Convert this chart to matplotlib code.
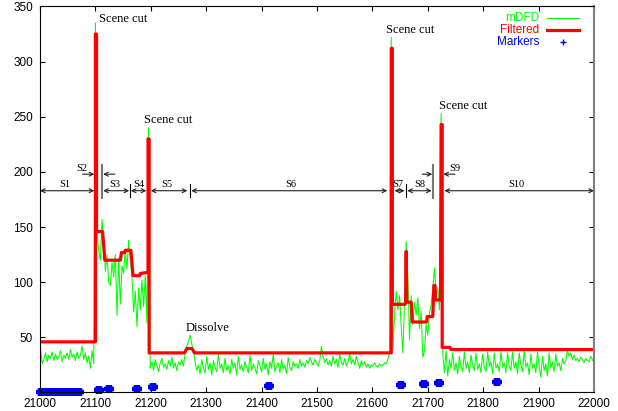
import numpy as np
import matplotlib.pyplot as plt

plt.rcParams['font.family'] = ['Liberation Sans', 'DejaVu Sans']

# mDFD, sampled every 3rd frame starting at frame 21001
mdfd_s1 = [40, 26, 30, 36, 28, 34, 31, 37, 29, 35, 30, 33, 38, 28, 34, 31, 36,
           30, 39, 32, 35, 29, 37, 31, 34, 42, 30, 36, 27, 33, 22, 38, 26, 335]
mdfd_s2 = [145, 128, 120, 157, 138, 110, 125, 100, 97, 118, 105, 125, 70, 122,
           80, 115, 108, 130, 112, 138, 120, 105, 73, 92, 60, 95, 75, 102, 78,
           106, 63, 240]
mdfd_s3 = [22, 28, 20, 30, 25, 19, 27, 31, 23, 26, 21, 29, 24, 32, 22, 27, 20,
           28, 25, 30, 24]
mdfd_dissolve = [36, 42, 46, 52, 44, 38, 28]
mdfd_s6 = [20, 25, 17, 30, 22, 18, 33, 21, 27, 16, 29, 23, 19, 35, 22, 26, 18, 31, 20, 24,
           17, 30, 22, 27, 16, 33, 21, 25, 19, 28, 23, 18, 34, 20, 26, 22, 17, 29, 24, 19,
           31, 21, 26, 16, 28, 22, 35, 19, 24, 27, 18, 30, 21, 25, 17, 32, 23, 20, 28, 24,
           26, 22, 30, 24, 27, 23, 29, 26, 32, 28, 25, 30, 27, 24, 29, 42, 33, 27, 31, 25,
           29, 24, 33, 26, 30, 23, 35, 27, 25, 31, 24, 28, 36, 26, 30, 25, 33, 27, 22, 29,
           25, 28, 23, 26, 22, 25, 24, 27,
           24, 23, 26, 24, 25, 27, 26, 30, 36, 322]
mdfd_s7_9 = [40, 70, 92, 75, 88, 60, 36, 82, 137, 105, 48, 88, 62, 82, 70, 86,
             58, 74, 32, 38, 62, 52, 72, 80, 94, 113, 88, 95, 75, 253]
mdfd_s10 = [35, 18, 38, 15, 30, 22, 36, 20, 27, 17, 33, 24, 19, 37, 22, 28, 18, 34, 25, 20,
            36, 21, 26, 18, 35, 23, 19, 37, 24, 28, 17, 36, 22, 26, 19, 37, 23, 27, 18, 36,
            24, 20, 37, 22, 28, 17, 36, 25, 19, 38, 23, 27, 16, 35, 22, 26, 18, 37, 24, 14,
            33, 20, 26, 15, 36, 22, 28, 19, 35, 24, 27, 20, 31, 26, 29, 38, 33, 36, 30, 34,
            29, 31, 28, 32, 30, 27, 31, 29, 28, 33, 30, 27]
mdfd = mdfd_s1 + mdfd_s2 + mdfd_s3 + mdfd_dissolve + mdfd_s6 + mdfd_s7_9 + mdfd_s10
frames = 21001 + 3 * np.arange(len(mdfd))

# filtered curve
filt_frames = [21000, 21100, 21100, 21102, 21102, 21113, 21117, 21145, 21147, 21153,
               21154, 21164, 21168, 21180, 21181, 21195, 21195, 21197, 21197, 21261,
               21265, 21274, 21279, 21634, 21634, 21636, 21636, 21659, 21660, 21661,
               21662, 21670, 21672, 21698, 21699, 21709, 21711, 21713, 21714, 21723,
               21724, 21726, 21726, 21740, 21742, 22000]
filt_values = [46, 46, 325, 325, 146, 146, 120, 120, 127, 127,
               129, 129, 106, 106, 108, 109, 230, 230, 36, 36,
               40, 40, 36, 36, 312, 312, 80, 80, 82, 128,
               82, 82, 64, 64, 69, 69, 97, 97, 84, 84,
               243, 243, 41, 41, 39, 39]

# detected markers
marker_frames = [21000, 21003, 21006, 21009, 21012, 21015, 21018, 21021, 21024, 21027,
                 21030, 21033, 21036, 21039, 21042, 21045, 21048, 21051, 21054, 21057,
                 21060, 21063, 21066, 21069, 21072,
                 21104, 21106, 21108, 21122, 21124, 21126, 21173, 21175, 21177,
                 21202, 21204, 21206, 21411, 21413, 21415, 21650, 21652, 21654,
                 21691, 21693, 21695, 21718, 21720, 21722, 21823, 21825, 21827]
marker_values = [1] * 25 + [2, 2, 2, 3, 3, 3, 3.6, 3.6, 3.6, 5, 5, 5, 5.7, 5.7, 5.7,
                            6.6, 6.6, 6.6, 7.8, 7.8, 7.8, 9, 9, 9, 9.6, 9.6, 9.6]

# shot segments
seg_names = ['S1', 'S3', 'S4', 'S5', 'S6', 'S7', 'S8', 'S10']
seg_start = [21000, 21114, 21164, 21200, 21273, 21640, 21663, 21730]
seg_end = [21098, 21161, 21192, 21266, 21627, 21658, 21707, 22000]
seg_label_x = [21045, 21135, 21178, 21229, 21453, 21645, 21685, 21860]
seg_y = 183
short_ticks = [21162, 21270, 21660]
short_names = ['S2', 'S9']
short_label_x = [21075, 21749]
short_bar = [21112, 21710]
short_left = [(21077, 21098), (21690, 21708)]
short_right = [(21135, 21114), (21749, 21728)]
short_y = 198

notes = ['Scene cut', 'Scene cut', 'Scene cut', 'Scene cut', 'Dissolve']
note_x = [21107, 21188, 21625, 21720, 21263]
note_y = [339, 247, 329, 260, 59]

fig = plt.figure(figsize=(6.18, 4.11), dpi=100)
ax = fig.add_axes([40 / 618, 19.5 / 411, 554 / 618, 385 / 411])

ax.plot(frames, mdfd, color='#00ff00', lw=0.75)
ax.plot(filt_frames, filt_values, color='#ff0000', lw=2.3)
ax.plot(marker_frames, marker_values, ls='none', marker='+', ms=6, mew=3.2,
        color='#0000ff', clip_on=False)

arrow = dict(arrowstyle='<->', lw=0.8, color='#222222', shrinkA=0, shrinkB=0,
             mutation_scale=7)
for name, a, b, lx in zip(seg_names, seg_start, seg_end, seg_label_x):
    ax.annotate('', xy=(b, seg_y), xytext=(a, seg_y), arrowprops=arrow)
    ax.text(lx, seg_y + 1.5, name, family='Liberation Serif', fontsize=7.5,
            ha='center', va='bottom')
for x in short_ticks:
    ax.plot([x, x], [177, 189], color='k', lw=0.8)

one = dict(arrow, arrowstyle='->')
for name, lx, bx, l, r in zip(short_names, short_label_x, short_bar, short_left, short_right):
    ax.annotate('', xy=(l[1], short_y), xytext=(l[0], short_y), arrowprops=one)
    ax.annotate('', xy=(r[1], short_y), xytext=(r[0], short_y), arrowprops=one)
    ax.plot([bx, bx], [176, 206], color='#777777', lw=1.5)
    ax.text(lx, short_y + 1.5, name, family='Liberation Serif', fontsize=7.5,
            ha='center', va='bottom')

for t, x, y in zip(notes, note_x, note_y):
    ax.text(x, y, t, family='Liberation Serif', fontsize=9, ha='left', va='center')

# legend (gnuplot style)
leg_names = ['mDFD', 'Filtered', 'Markers']
leg_colors = ['#00ff00', '#ff0000', '#0000ff']
leg_y = [0.971, 0.939, 0.907]
for name, c, y in zip(leg_names, leg_colors, leg_y):
    ax.text(0.9007, y, name, color=c, fontsize=8.5, ha='right', va='center',
            transform=ax.transAxes)
ax.plot([0.915, 0.9735], [leg_y[0]] * 2, color='#00ff00', lw=0.8, transform=ax.transAxes)
ax.plot([0.915, 0.9735], [leg_y[1]] * 2, color='#ff0000', lw=2.3, transform=ax.transAxes)
ax.plot([0.944], [leg_y[2]], marker='+', ms=5, mew=1, color='#0000ff',
        transform=ax.transAxes)

ax.set_xlim(21000, 22000)
ax.set_ylim(1, 350)
ax.set_xticks(np.arange(21000, 22001, 100))
ax.set_yticks(np.arange(50, 351, 50))
ax.tick_params(direction='in', top=True, right=True, length=3.5, labelsize=8.5,
               width=0.8)
ax.tick_params(axis='x', pad=5)
ax.tick_params(axis='y', pad=5)
for s in ['left', 'bottom', 'top']:
    ax.spines[s].set_linewidth(0.8)
ax.spines['right'].set_color('#808080')
ax.spines['right'].set_linewidth(1.5)

fig.savefig('out.png', dpi=100)
